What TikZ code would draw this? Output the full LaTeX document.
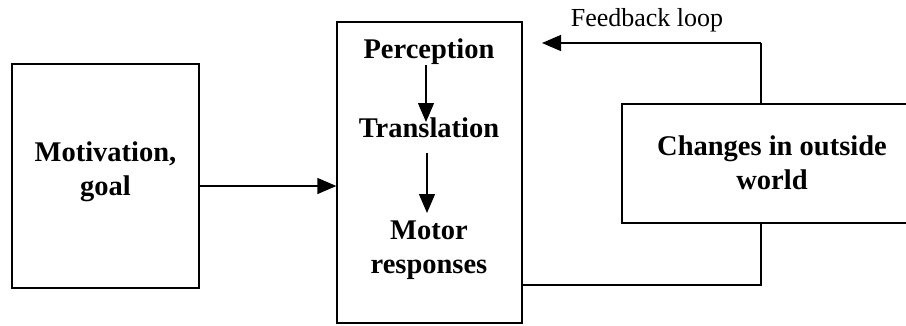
\documentclass[tikz,border=0pt]{standalone}
\usepackage{fontspec}
\setmainfont{Liberation Serif}
\usetikzlibrary{arrows.meta}
\begin{document}
\begin{tikzpicture}[x=1pt,y=-1pt,
  box/.style={draw,line width=1.3pt,fill=white,inner sep=0pt},
  bt/.style={font=\fontsize{28.5}{34}\selectfont\bfseries,align=center,inner sep=0pt},
  conn/.style={line width=1.3pt,-{Triangle[width=16pt,length=19pt]}},
  plain/.style={line width=1.3pt}]
\useasboundingbox (0,0) rectangle (906,325);
% feedback loop (drawn first, box covers it)
\coordinate (fbA) at (522,285);
\coordinate (fbB) at (761,285);
\coordinate (fbC) at (761,43);
\coordinate (fbD) at (542,43);
\draw[plain] (fbA) -- (fbB) -- (fbC);
\draw[conn] (fbC) -- (fbD);
% boxes
\node[box,minimum width=187pt,minimum height=224pt] (mot) at (105.5,176) {};
\node[bt] (motT) at (105.5,172) {Motivation,\\goal};
\node[box,minimum width=185pt,minimum height=301pt] (cen) at (429.5,172.5) {};
\node[box,minimum width=300pt,minimum height=119pt] (chg) at (772,163.5) {};
\node[bt] (chgT) at (772,163) {Changes in outside\\world};
\node[bt] (perc) at (429,52) {Perception};
\node[bt] (tran) at (429,128) {Translation};
\node[bt] (moto) at (429,250) {Motor\\responses};
\node[font=\fontsize{26}{30}\selectfont,inner sep=0pt] (fbl) at (647,20) {Feedback loop};
% connectors
\draw[conn] (mot.east |- 0,186) -- (cen.west |- 0,186);
\coordinate (t1) at (426,122);
\draw[conn] (perc.south -| t1) -- (t1);
\coordinate (t2a) at (427,153);
\coordinate (t2b) at (427,213);
\draw[conn] (t2a) -- (t2b);
\end{tikzpicture}
\end{document}
